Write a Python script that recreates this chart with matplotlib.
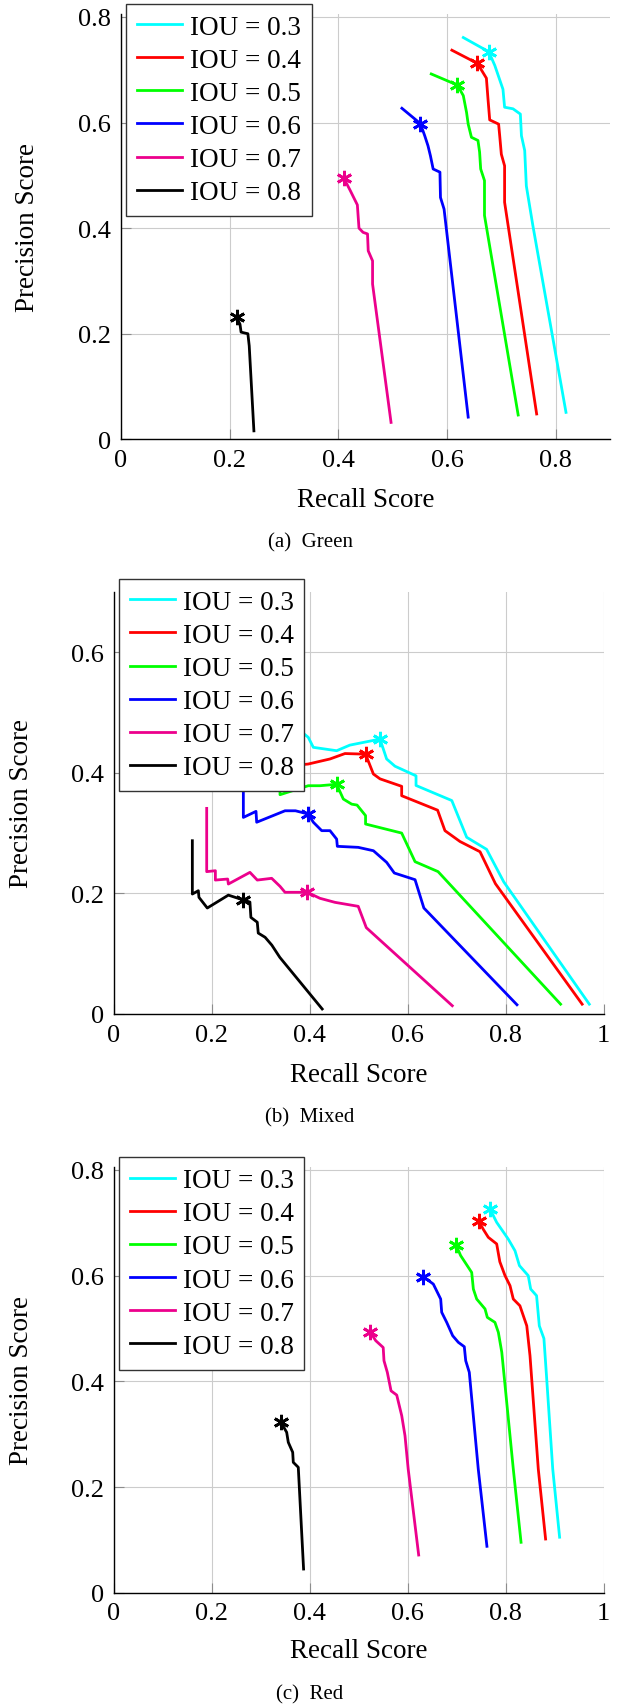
import matplotlib.pyplot as plt
from matplotlib.ticker import FuncFormatter, MultipleLocator

plt.rcParams['font.family'] = ['Liberation Serif', 'DejaVu Serif']

iou_levels = [0.3, 0.4, 0.5, 0.6, 0.7, 0.8]
line_colors = ['#00ffff', '#ff0000', '#00ff00', '#0000ff', '#ec008c', '#000000']

# (a) Green -- recall / precision per IoU, and index of the starred point
green_recall = [
    [0.630, 0.677, 0.688, 0.703, 0.706, 0.7215, 0.735, 0.737, 0.743, 0.746, 0.758, 0.819],
    [0.609, 0.656, 0.6725, 0.6755, 0.6786, 0.695, 0.697, 0.700, 0.706, 0.706, 0.765],
    [0.571, 0.619, 0.630, 0.636, 0.639, 0.645, 0.657, 0.660, 0.662, 0.669, 0.669, 0.731],
    [0.517, 0.551, 0.559, 0.565, 0.5695, 0.5745, 0.587, 0.588, 0.5946, 0.639],
    [0.410, 0.422, 0.435, 0.438, 0.4455, 0.4537, 0.455, 0.463, 0.463, 0.497],
    [0.213, 0.219, 0.221, 0.229, 0.2335, 0.236, 0.2446],
]
green_precision = [
    [0.761, 0.734, 0.708, 0.663, 0.629, 0.626, 0.616, 0.575, 0.547, 0.480, 0.405, 0.051],
    [0.737, 0.712, 0.684, 0.644, 0.605, 0.597, 0.575, 0.540, 0.518, 0.449, 0.048],
    [0.692, 0.671, 0.651, 0.619, 0.597, 0.572, 0.566, 0.544, 0.512, 0.490, 0.424, 0.046],
    [0.627, 0.598, 0.575, 0.556, 0.537, 0.512, 0.506, 0.458, 0.436, 0.042],
    [0.495, 0.471, 0.444, 0.400, 0.392, 0.389, 0.357, 0.338, 0.294, 0.032],
    [0.231, 0.218, 0.203, 0.201, 0.200, 0.177, 0.016],
]
green_star = [1, 1, 1, 1, 0, 0]

# (b) Mixed
mixed_recall = [
    [0.30, 0.35, 0.397, 0.4074, 0.455, 0.482, 0.5435, 0.557, 0.574, 0.617, 0.617, 0.690,
     0.7204, 0.761, 0.796, 0.9706],
    [0.29, 0.34, 0.397, 0.4414, 0.472, 0.514, 0.530, 0.5435, 0.5877, 0.5877, 0.661, 0.676,
     0.7067, 0.7476, 0.779, 0.956],
    [0.3394, 0.3394, 0.397, 0.421, 0.455, 0.4686, 0.4857, 0.4966, 0.514, 0.514, 0.5877,
     0.615, 0.662, 0.912],
    [0.2646, 0.2646, 0.2904, 0.2918, 0.3496, 0.371, 0.397, 0.4074, 0.4245, 0.4414, 0.455,
     0.4564, 0.499, 0.530, 0.557, 0.5727, 0.615, 0.633, 0.823],
    [0.1898, 0.1898, 0.2075, 0.2075, 0.2326, 0.234, 0.278, 0.293, 0.3224, 0.3394, 0.3496,
     0.3735, 0.395, 0.421, 0.4516, 0.499, 0.5155, 0.691],
    [0.1605, 0.1605, 0.1727, 0.174, 0.191, 0.234, 0.2646, 0.278, 0.280, 0.293, 0.295,
     0.309, 0.3227, 0.339, 0.4255],
]
mixed_precision = [
    [0.52, 0.49, 0.459, 0.4423, 0.4367, 0.446, 0.456, 0.423, 0.411, 0.395, 0.379, 0.354,
     0.293, 0.273, 0.219, 0.016],
    [0.44, 0.41, 0.4146, 0.423, 0.432, 0.431, 0.398, 0.390, 0.3776, 0.362, 0.338, 0.304,
     0.286, 0.269, 0.216, 0.016],
    [0.42, 0.3637, 0.3786, 0.3786, 0.381, 0.3565, 0.348, 0.3465, 0.329, 0.315, 0.300,
     0.2525, 0.236, 0.016],
    [0.43, 0.326, 0.336, 0.318, 0.337, 0.337, 0.3316, 0.318, 0.304, 0.304, 0.290,
     0.278, 0.2763, 0.2707, 0.2514, 0.2337, 0.2226, 0.1756, 0.015],
    [0.341, 0.236, 0.2375, 0.222, 0.2237, 0.2154, 0.2348, 0.222, 0.2249, 0.2116, 0.2017,
     0.2017, 0.2017, 0.1917, 0.185, 0.1784, 0.143, 0.0134],
    [0.2873, 0.1988, 0.2043, 0.1933, 0.1756, 0.197, 0.1889, 0.1855, 0.160, 0.152, 0.134,
     0.127, 0.114, 0.0937, 0.008],
]
mixed_star = [6, 5, 4, 6, 12, 6]

# (c) Red
red_recall = [
    [0.768, 0.7816, 0.8053, 0.819, 0.828, 0.846, 0.851, 0.863, 0.8686, 0.878, 0.8837, 0.896, 0.910],
    [0.7455, 0.754, 0.7645, 0.7816, 0.788, 0.7986, 0.8088, 0.8155, 0.829, 0.843, 0.8496, 0.8665, 0.8814],
    [0.6986, 0.708, 0.7306, 0.734, 0.7408, 0.7578, 0.7625, 0.778, 0.785, 0.792, 0.8155, 0.8313],
    [0.632, 0.6523, 0.6673, 0.6694, 0.6796, 0.6918, 0.7033, 0.7155, 0.7184, 0.7257, 0.744, 0.7617],
    [0.523, 0.5347, 0.550, 0.5516, 0.5584, 0.566, 0.5776, 0.5878, 0.5945, 0.601, 0.6224],
    [0.3414, 0.353, 0.3563, 0.3653, 0.3665, 0.3767, 0.3875],
]
red_precision = [
    [0.726, 0.7008, 0.669, 0.647, 0.619, 0.600, 0.5746, 0.562, 0.505, 0.481, 0.4043, 0.234, 0.105],
    [0.7027, 0.688, 0.6725, 0.660, 0.6263, 0.600, 0.581, 0.5557, 0.543, 0.505, 0.4484, 0.234, 0.1016],
    [0.6585, 0.638, 0.606, 0.5746, 0.5557, 0.537, 0.521, 0.5116, 0.4927, 0.455, 0.234, 0.0954],
    [0.598, 0.584, 0.5557, 0.5306, 0.5116, 0.4863, 0.4738, 0.4655, 0.439, 0.417, 0.234, 0.0878],
    [0.494, 0.477, 0.464, 0.439, 0.417, 0.382, 0.374, 0.335, 0.297, 0.234, 0.0713],
    [0.3224, 0.3035, 0.2846, 0.2657, 0.2467, 0.2373, 0.0448],
]
red_star = [0, 0, 0, 0, 0, 0]

W, H = 621, 1708
fig = plt.figure(figsize=(W / 100, H / 100), dpi=100)


def panel(box, recall, precision, star, xmax, ymax, legend_xy, xlab_y, ylab_x, caption, cap_y):
    left, right, bottom, top = box  # pixel edges
    ax = fig.add_axes([left / W, 1 - bottom / H, (right - left) / W, (bottom - top) / H])
    for k, iou in enumerate(iou_levels):
        ax.plot(recall[k], precision[k], color=line_colors[k], lw=2.0,
                label='IOU = %.1f' % iou, zorder=3)
        i = star[k]
        ax.plot(recall[k][i], precision[k][i], marker=(6, 2, 0), ms=11, mew=2,
                color=line_colors[k], zorder=4)
    ax.set_xlim(0, xmax)
    ax.set_ylim(0, ymax)
    ax.xaxis.set_major_locator(MultipleLocator(0.2))
    ax.yaxis.set_major_locator(MultipleLocator(0.2))
    fmt = FuncFormatter(lambda v, p: '%g' % round(v, 2))
    ax.xaxis.set_major_formatter(fmt)
    ax.yaxis.set_major_formatter(fmt)
    ax.grid(True, color='#cccccc', lw=0.8)
    ax.set_axisbelow(True)
    for s in ['top', 'right']:
        ax.spines[s].set_visible(False)
    for s in ['left', 'bottom']:
        ax.spines[s].set_linewidth(1.0)
    ax.tick_params(direction='in', length=7.5, width=0.8, color='#8c8c8c',
                   labelsize=19, pad=7)
    ax.set_xlabel('Recall Score', fontsize=19.5)
    ax.xaxis.set_label_coords(0.5, xlab_y)
    ax.xaxis.label.set_va('center')
    ax.set_ylabel('Precision Score', fontsize=19.5)
    ax.yaxis.set_label_coords(ylab_x, 0.5)
    ax.yaxis.label.set_va('center')
    leg = ax.legend(loc='upper left', bbox_to_anchor=(legend_xy[0] / W, 1 - legend_xy[1] / H),
                    bbox_transform=fig.transFigure, fontsize=19.5, fancybox=False,
                    edgecolor='#333333', framealpha=1, borderpad=0.4, borderaxespad=0,
                    handlelength=1.65, handletextpad=0.3, labelspacing=0.3)
    leg.get_frame().set_linewidth(1.0)
    leg.set_zorder(10)
    fig.text(310 / W, 1 - cap_y / H, caption, ha='center', va='center', fontsize=15)
    return ax


panel((121, 610, 440.3, 15.3), green_recall, green_precision, green_star, 0.9, 0.805,
      (126.3, 4.7), -0.1405, -0.192, '(a)  Green', 543.3)
panel((113.7, 603.7, 1014.8, 593.1), mixed_recall, mixed_precision, mixed_star, 1.0, 0.7,
      (119, 580), -0.1428, -0.189, '(b)  Mixed', 1117.7)
panel((113.7, 603.7, 1593.7, 1168.3), red_recall, red_precision, red_star, 1.0, 0.805,
      (119, 1158.3), -0.1363, -0.189, '(c)  Red', 1695)

fig.savefig('out.png', dpi=100)
